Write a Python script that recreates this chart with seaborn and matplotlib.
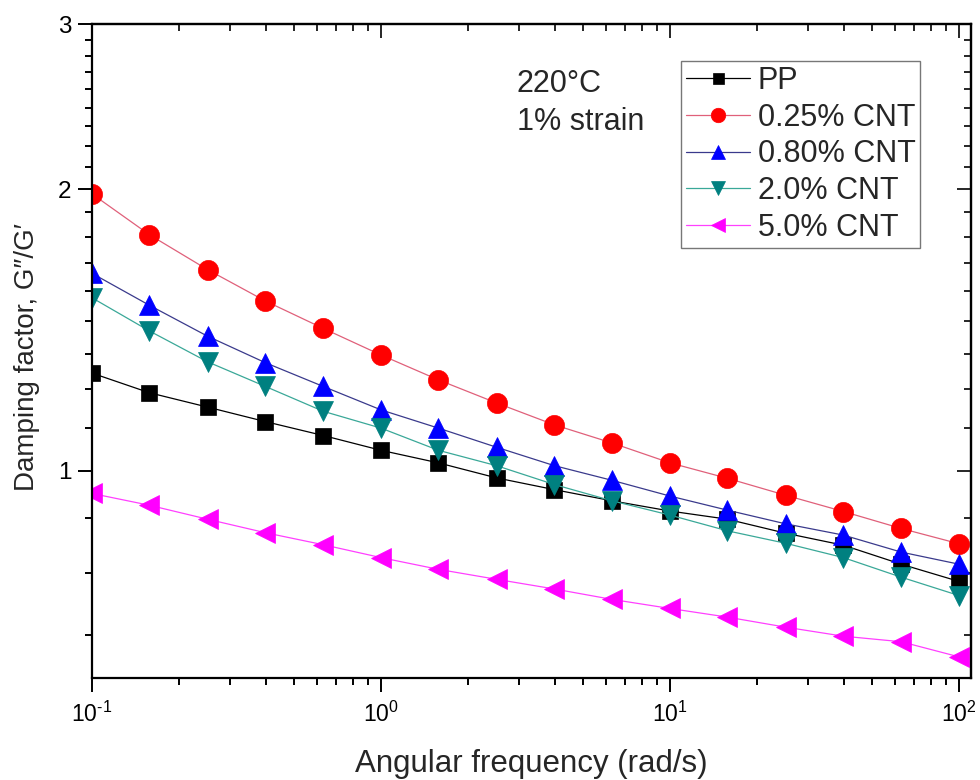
import numpy as np
import pandas as pd
import matplotlib
matplotlib.use("Agg")
import matplotlib.pyplot as plt
from matplotlib.ticker import LogLocator, MultipleLocator, FuncFormatter, NullFormatter
import seaborn as sns

# Angular frequency (rad/s) of the frequency sweep
freq = [0.1, 0.158, 0.251, 0.398, 0.631, 1.0, 1.58, 2.51, 3.98, 6.31,
        10.0, 15.8, 25.1, 39.8, 63.1, 100.0]

# Damping factor G''/G' for each sample
pp = [1.271, 1.211, 1.169, 1.128, 1.090, 1.051, 1.019, 0.982, 0.954, 0.928,
      0.905, 0.887, 0.857, 0.832, 0.794, 0.761]
cnt_025 = [1.976, 1.787, 1.640, 1.518, 1.419, 1.329, 1.250, 1.181, 1.119, 1.070,
           1.019, 0.981, 0.941, 0.904, 0.867, 0.835]
cnt_080 = [1.625, 1.502, 1.392, 1.304, 1.230, 1.161, 1.110, 1.059, 1.012, 0.976,
           0.939, 0.907, 0.877, 0.853, 0.818, 0.794]
cnt_20 = [1.530, 1.410, 1.307, 1.230, 1.157, 1.110, 1.051, 1.012, 0.966, 0.928,
          0.896, 0.862, 0.836, 0.807, 0.769, 0.735]
cnt_50 = [0.945, 0.918, 0.887, 0.858, 0.833, 0.807, 0.784, 0.765, 0.747, 0.728,
          0.712, 0.697, 0.680, 0.665, 0.656, 0.632]

labels = ["PP", "0.25% CNT", "0.80% CNT", "2.0% CNT", "5.0% CNT"]
series = [pp, cnt_025, cnt_080, cnt_20, cnt_50]
markers = ["s", "o", "^", "v", "<"]
marker_colors = ["#000000", "#ff0000", "#0000ff", "#008080", "#ff00ff"]
line_colors = ["#000000", "#e0607a", "#3a3a8c", "#3aa898", "#ff40ff"]
marker_sizes = [11, 14.5, 14, 14, 14]

df = pd.concat(
    [pd.DataFrame({"freq": freq, "tan_delta": vals, "sample": lab})
     for lab, vals in zip(labels, series)],
    ignore_index=True,
)

sns.set_theme(style="ticks")
plt.rcParams["font.family"] = ["Liberation Sans", "DejaVu Sans"]
plt.rcParams["mathtext.fontset"] = "custom"
plt.rcParams["mathtext.rm"] = "Liberation Sans"
plt.rcParams["mathtext.it"] = "Liberation Sans"
plt.rcParams["mathtext.bf"] = "Liberation Sans:bold"
plt.rcParams["mathtext.default"] = "regular"

fig = plt.figure(figsize=(9.8, 7.8), dpi=100)
ax = fig.add_axes([0.0939, 0.1308, 0.8969, 0.8380])

for lab, m, mc, lc, ms in zip(labels, markers, marker_colors, line_colors, marker_sizes):
    sub = df[df["sample"] == lab]
    sns.lineplot(data=sub, x="freq", y="tan_delta", ax=ax, label=lab,
                 color=lc, linewidth=0.9, marker=m, markersize=ms,
                 markerfacecolor=mc, markeredgecolor=mc, markeredgewidth=0.5,
                 errorbar=None)

ax.set_xscale("log")
ax.set_yscale("log")
ax.set_xlim(0.1, 110)
ax.set_ylim(0.6, 3.0)


def decade_label(v, pos):
    exp = int(round(np.log10(v)))
    return "$10^{\\text{" + str(exp) + "}}$"


# Bottom / left axes: outward ticks with labels
ax.xaxis.set_major_locator(LogLocator(base=10))
ax.xaxis.set_minor_locator(LogLocator(base=10, subs=np.arange(2, 10)))
ax.xaxis.set_major_formatter(FuncFormatter(decade_label))
ax.xaxis.set_minor_formatter(NullFormatter())
ax.yaxis.set_major_locator(MultipleLocator(1))
ax.yaxis.set_minor_locator(MultipleLocator(1 / 9))
ax.yaxis.set_major_formatter(FuncFormatter(lambda v, p: f"{v:g}"))
ax.yaxis.set_minor_formatter(NullFormatter())
ax.tick_params(which="both", direction="out", width=1.4, top=False, right=False,
               colors="#000000")
ax.tick_params(axis="x", which="major", labelsize=16.5, pad=7)
ax.tick_params(axis="y", which="major", labelsize=17.5, pad=5)
ax.tick_params(which="major", length=10)
ax.tick_params(which="minor", length=5)
for sp in ax.spines.values():
    sp.set_linewidth(1.6)
    sp.set_color("#000000")

# Top / right axes: inward ticks, no labels
top = ax.secondary_xaxis("top")
top.xaxis.set_major_locator(LogLocator(base=10))
top.xaxis.set_minor_locator(LogLocator(base=10, subs=np.arange(2, 10)))
top.tick_params(which="both", direction="in", width=1.4, labeltop=False)
top.tick_params(which="major", length=10)
top.tick_params(which="minor", length=5)
top.spines["top"].set_linewidth(1.6)

right = ax.secondary_yaxis("right")
right.yaxis.set_major_locator(MultipleLocator(1))
right.yaxis.set_minor_locator(MultipleLocator(1 / 9))
right.tick_params(which="both", direction="in", width=1.4, labelright=False)
right.tick_params(which="major", length=10)
right.tick_params(which="minor", length=5)
right.spines["right"].set_linewidth(1.6)

ax.set_xlabel("Angular frequency (rad/s)", fontsize=22.5)
ax.set_ylabel("Damping factor, G\u2033/G\u2032", fontsize=20)
ax.xaxis.set_label_coords(0.5, -0.108)
ax.yaxis.set_label_coords(-0.059, 0.491)

ax.text(0.483, 0.8965, "220\u00b0C", transform=ax.transAxes, fontsize=22,
        ha="left", va="baseline")
ax.text(0.483, 0.838, "1% strain", transform=ax.transAxes, fontsize=22,
        ha="left", va="baseline")

leg = ax.legend(loc="upper left", bbox_to_anchor=(0.670, 0.944), fontsize=22,
                frameon=True, fancybox=False, borderpad=0.16, borderaxespad=0,
                labelspacing=0.22, handlelength=2.1, handletextpad=0.25,
                markerscale=0.72)
leg.get_frame().set_edgecolor("#555555")
leg.get_frame().set_linewidth(1.0)

fig.savefig("out.png", dpi=100)
